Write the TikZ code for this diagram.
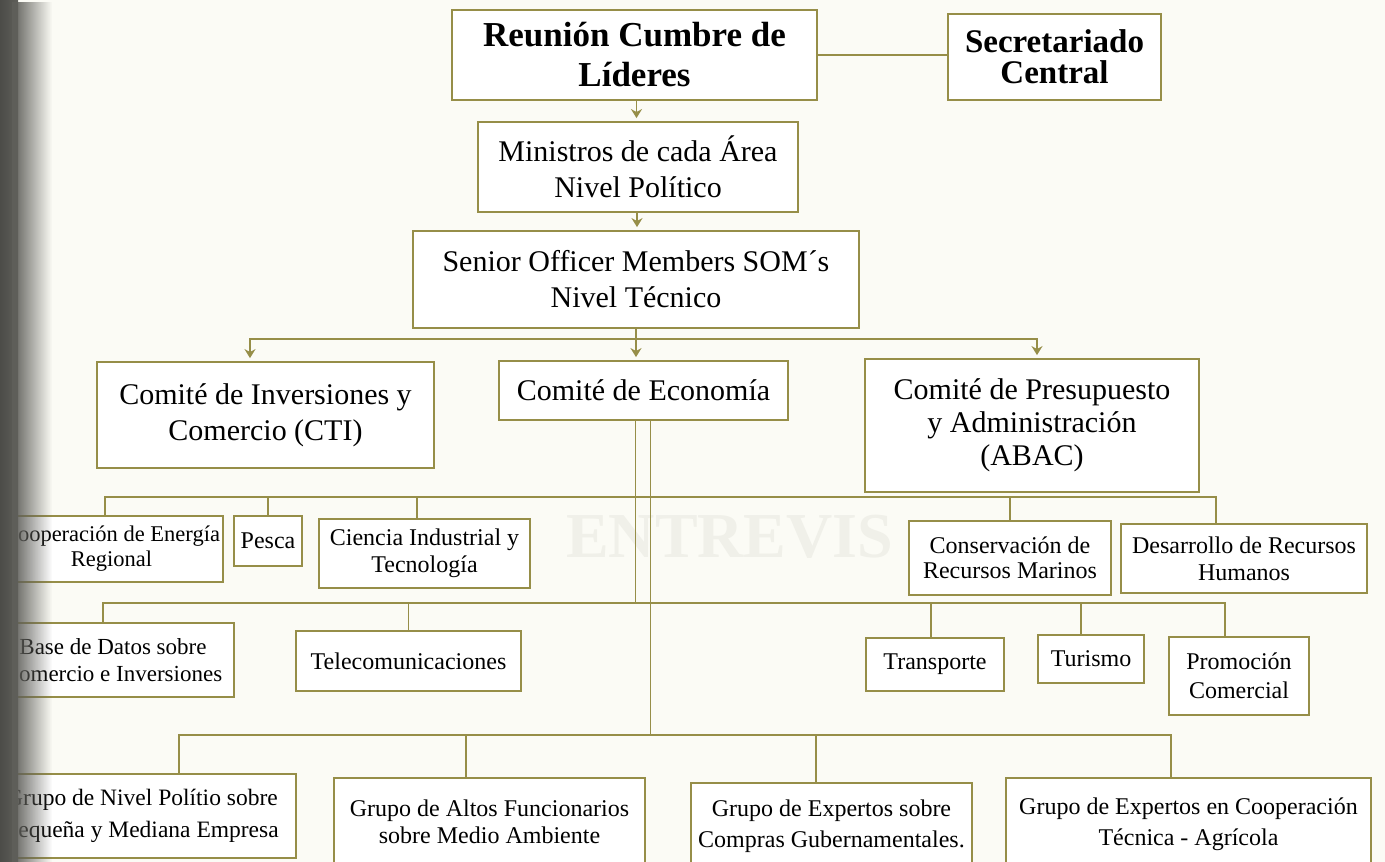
\documentclass[tikz,border=0pt]{standalone}
\usepackage{fontspec}
\setmainfont{Liberation Serif}
\usetikzlibrary{arrows.meta,fadings,calc}
\definecolor{bg}{RGB}{251,251,245}
\definecolor{ol}{RGB}{150,142,72}
\definecolor{wm}{RGB}{240,240,233}
\definecolor{shd}{RGB}{95,95,90}
\tikzfading[name=fadeR, left color=transparent!0, right color=transparent!100]
\tikzset{
  box/.style={draw=ol, line width=1.8pt, fill=white, inner sep=0pt, align=center, text=black},
  big/.style={font=\fontsize{35}{40}\selectfont\bfseries},
  sec/.style={font=\fontsize{33}{31}\selectfont\bfseries},
  med/.style={font=\fontsize{30}{36}\selectfont},
  sm/.style={font=\fontsize{24}{27}\selectfont},
  ln/.style={draw=ol, line width=1.8pt},
  arr/.style={ln, -{Stealth[length=9pt,width=11pt]}, shorten >=3pt},
}
\newcommand\obox[6]{\node[box,#6,minimum width={#4-#2},minimum height={#5-#3}] (#1) at ({(#2+#4)/2},{(#3+#5)/2})}
\begin{document}
\begin{tikzpicture}[x=1pt,y=-1pt]
\fill[bg] (0,0) rectangle (1385,862);
\useasboundingbox (0,0) rectangle (1385,862);
\clip (0,0) rectangle (1385,862);

\node[anchor=west, text=wm, font=\fontsize{64}{64}\selectfont\bfseries, inner sep=0pt] (wmk) at (566,537) {ENTREVIS};

\obox{reunion}{452}{10}{817}{100}{big}{Reunión Cumbre de\\Líderes};
\obox{secret}{948}{14}{1161}{100}{sec}{Secretariado\\Central};
\obox{minis}{478}{122}{798}{212}{med}{Ministros de cada Área\\Nivel Político};
\obox{som}{413}{231}{859}{328}{med}{Senior Officer Members SOM´s\\Nivel Técnico};
\obox{cti}{97}{362}{434}{468}{med}{Comité de Inversiones y\\Comercio (CTI)};
\obox{eco}{499}{361}{788}{420}{med}{Comité de Economía};
\obox{abac}{865}{359}{1199}{492}{med,font=\fontsize{30}{33}\selectfont}{Comité de Presupuesto\\y Administración\\(ABAC)};

\obox{energia}{0}{516}{223}{582}{sm,font=\fontsize{22.5}{25}\selectfont}{Cooperación de Energía\\Regional};
\obox{pesca}{234}{516}{302}{566}{sm}{Pesca};
\obox{ciencia}{319}{519}{530}{588}{sm}{Ciencia Industrial y\\Tecnología};
\obox{conserv}{909}{521}{1111}{595}{sm,font=\fontsize{24}{25}\selectfont}{Conservación de\\Recursos Marinos};
\obox{desarr}{1121}{524}{1367}{593}{sm}{Desarrollo de Recursos\\Humanos};

\obox{base}{-8}{623}{234}{697}{sm,font=\fontsize{23}{27}\selectfont}{Base de Datos sobre\\Comercio e Inversiones};
\obox{telecom}{296}{631}{521}{691}{sm}{Telecomunicaciones};
\obox{transp}{866}{638}{1004}{691}{sm}{Transporte};
\obox{turismo}{1038}{635}{1144}{683}{sm}{Turismo};
\obox{promo}{1169}{637}{1309}{715}{sm,font=\fontsize{24}{29}\selectfont}{Promoción\\Comercial};

\obox{nivelp}{-12}{774}{296}{858}{sm,font=\fontsize{23.5}{32}\selectfont}{Grupo de Nivel Polítio sobre\\Pequeña y Mediana Empresa};
\obox{altos}{334}{778}{645}{866}{sm}{Grupo de Altos Funcionarios\\sobre Medio Ambiente};
\obox{compras}{691}{783}{972}{870}{sm,font=\fontsize{24}{31}\selectfont}{Grupo de Expertos sobre\\Compras Gubernamentales.};
\obox{coopt}{1006}{778}{1371}{870}{sm,font=\fontsize{24}{31}\selectfont}{Grupo de Expertos en Cooperación\\Técnica - Agrícola};

% top connectors
\draw[ln] (reunion.east) -- (reunion.east -| secret.west);
\draw[arr] ([xshift=2]reunion.south) -- ([xshift=2]reunion.south |- minis.north);
\draw[arr] ([xshift=-1]minis.south) -- ([xshift=-1]minis.south |- som.north);
\draw[arr] (som.south) -- (som.south |- eco.north);
\coordinate (bus0) at ($(som.south)+(0,10)$);
\draw[arr] (bus0) -| ([xshift=-15.5]cti.north);
\draw[arr] (bus0) -| ([xshift=5]abac.north);

% economy trunks
\coordinate (b1) at (0,497);
\coordinate (b2) at (0,603);
\coordinate (b3) at (0,735);
\coordinate (e1) at ([xshift=-8]eco.south);
\coordinate (e2) at ([xshift=7]eco.south);
\draw[ln] (e1) -- (e1 |- b2);
\draw[ln] (e2) -- (e2 |- b3);

% bus 1
\draw[ln] ([xshift=-6.5]energia.north) |- (e1 |- b1);
\draw[ln] (pesca.north) |- (e1 |- b1);
\draw[ln] ([xshift=-7.5]ciencia.north) |- (e1 |- b1);
\draw[ln] (conserv.north) |- (e1 |- b1);
\draw[ln] ([xshift=-28]desarr.north) |- (e1 |- b1);

% bus 2
\draw[ln] ([xshift=-10]base.north) |- (e1 |- b2);
\draw[ln] (telecom.north) |- (e1 |- b2);
\draw[ln] ([xshift=-4]transp.north) |- (e1 |- b2);
\draw[ln] ([xshift=-10]turismo.north) |- (e1 |- b2);
\draw[ln] ([xshift=-14]promo.north) |- (e1 |- b2);

% bus 3
\draw[ln] ([xshift=37]nivelp.north) |- (e2 |- b3);
\draw[ln] ([xshift=-23.5]altos.north) |- (e2 |- b3);
\draw[ln] ([xshift=-15.5]compras.north) |- (e2 |- b3);
\draw[ln] ([xshift=-17.5]coopt.north) |- (e2 |- b3);

% binding shadow
\shade[left color=shd!80!black, right color=shd] (0,0) rectangle (18,862);
\fill[shd, path fading=fadeR] (12,0) rectangle (52,862);
\end{tikzpicture}
\end{document}
